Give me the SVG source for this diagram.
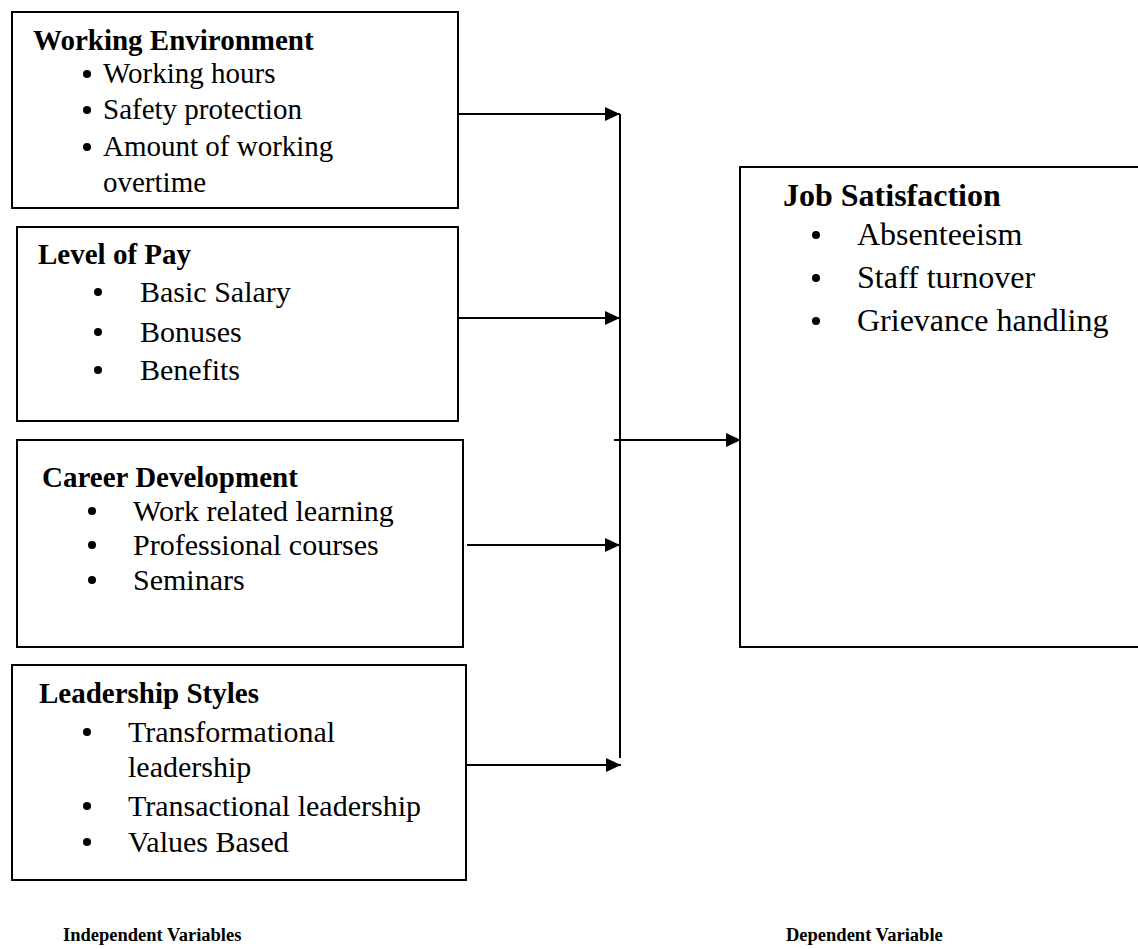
<svg xmlns="http://www.w3.org/2000/svg" width="1138" height="949" viewBox="0 0 1138 949">
<style>
.box{fill:#fff;stroke:#000;stroke-width:2}
.t{font-family:"Liberation Serif","Times New Roman",serif;fill:#000}
.h{font-weight:bold;font-size:29px}
.i{font-size:30px}
.w{font-size:29px}
.jh{font-weight:bold;font-size:32px}
.ji{font-size:32px}
.c{stroke:#000;stroke-width:2;fill:none}
.lab{font-family:"Liberation Serif","Times New Roman",serif;font-weight:bold;font-size:18.5px;fill:#000}
</style>
<defs>
<marker id="ah" markerWidth="15" markerHeight="14" refX="15" refY="7" orient="auto" markerUnits="userSpaceOnUse">
<path d="M0,0 L15,7 L0,14 Z" fill="#000"/>
</marker>
</defs>
<rect width="1138" height="949" fill="#fff"/>
<g id="connectors">
<line class="c" x1="620" y1="114" x2="620" y2="758"/>
<line class="c" x1="458" y1="114" x2="620" y2="114" marker-end="url(#ah)"/>
<line class="c" x1="459" y1="318" x2="620" y2="318" marker-end="url(#ah)"/>
<line class="c" x1="467" y1="545" x2="620" y2="545" marker-end="url(#ah)"/>
<line class="c" x1="467" y1="765" x2="621" y2="765" marker-end="url(#ah)"/>
<line class="c" x1="614" y1="440" x2="741" y2="440" marker-end="url(#ah)"/>
</g>
<g id="working-environment">
<rect class="box" x="12" y="12" width="446" height="196"/>
<text class="t h" x="33" y="50">Working Environment</text>
<circle cx="87" cy="74" r="4"/>
<text class="t w" x="103" y="83">Working hours</text>
<circle cx="87" cy="110" r="4"/>
<text class="t w" x="103" y="119">Safety protection</text>
<circle cx="87" cy="147" r="4"/>
<text class="t w" x="103" y="156">Amount of working</text>
<text class="t w" x="103" y="192">overtime</text>
</g>
<g id="level-of-pay">
<rect class="box" x="17" y="227" width="441" height="194"/>
<text class="t h" x="38" y="264">Level of Pay</text>
<circle cx="98" cy="292" r="4"/>
<text class="t i" x="140" y="302">Basic Salary</text>
<circle cx="98" cy="332" r="4"/>
<text class="t i" x="140" y="342">Bonuses</text>
<circle cx="98" cy="370" r="4"/>
<text class="t i" x="140" y="380">Benefits</text>
</g>
<g id="career-development">
<rect class="box" x="17" y="440" width="446" height="207"/>
<text class="t h" x="42" y="487">Career Development</text>
<circle cx="92" cy="511" r="4"/>
<text class="t i" x="133" y="521">Work related learning</text>
<circle cx="92" cy="545" r="4"/>
<text class="t i" x="133" y="555">Professional courses</text>
<circle cx="92" cy="580" r="4"/>
<text class="t i" x="133" y="590">Seminars</text>
</g>
<g id="leadership-styles">
<rect class="box" x="12" y="665" width="454" height="215"/>
<text class="t h" x="39" y="703">Leadership Styles</text>
<circle cx="87" cy="732" r="4"/>
<text class="t i" x="128" y="742">Transformational</text>
<text class="t i" x="128" y="777">leadership</text>
<circle cx="87" cy="806" r="4"/>
<text class="t i" x="128" y="816">Transactional leadership</text>
<circle cx="87" cy="842" r="4"/>
<text class="t i" x="128" y="852">Values Based</text>
</g>
<g id="job-satisfaction">
<rect class="box" x="740" y="167" width="410" height="480"/>
<text class="t jh" x="783" y="206">Job Satisfaction</text>
<circle cx="816" cy="235" r="4"/>
<text class="t ji" x="857" y="245">Absenteeism</text>
<circle cx="816" cy="278" r="4"/>
<text class="t ji" x="857" y="288">Staff turnover</text>
<circle cx="816" cy="321" r="4"/>
<text class="t ji" x="857" y="331">Grievance handling</text>
</g>
<g id="labels">
<text class="lab" x="63" y="941">Independent Variables</text>
<text class="lab" x="786" y="941">Dependent Variable</text>
</g>
</svg>
